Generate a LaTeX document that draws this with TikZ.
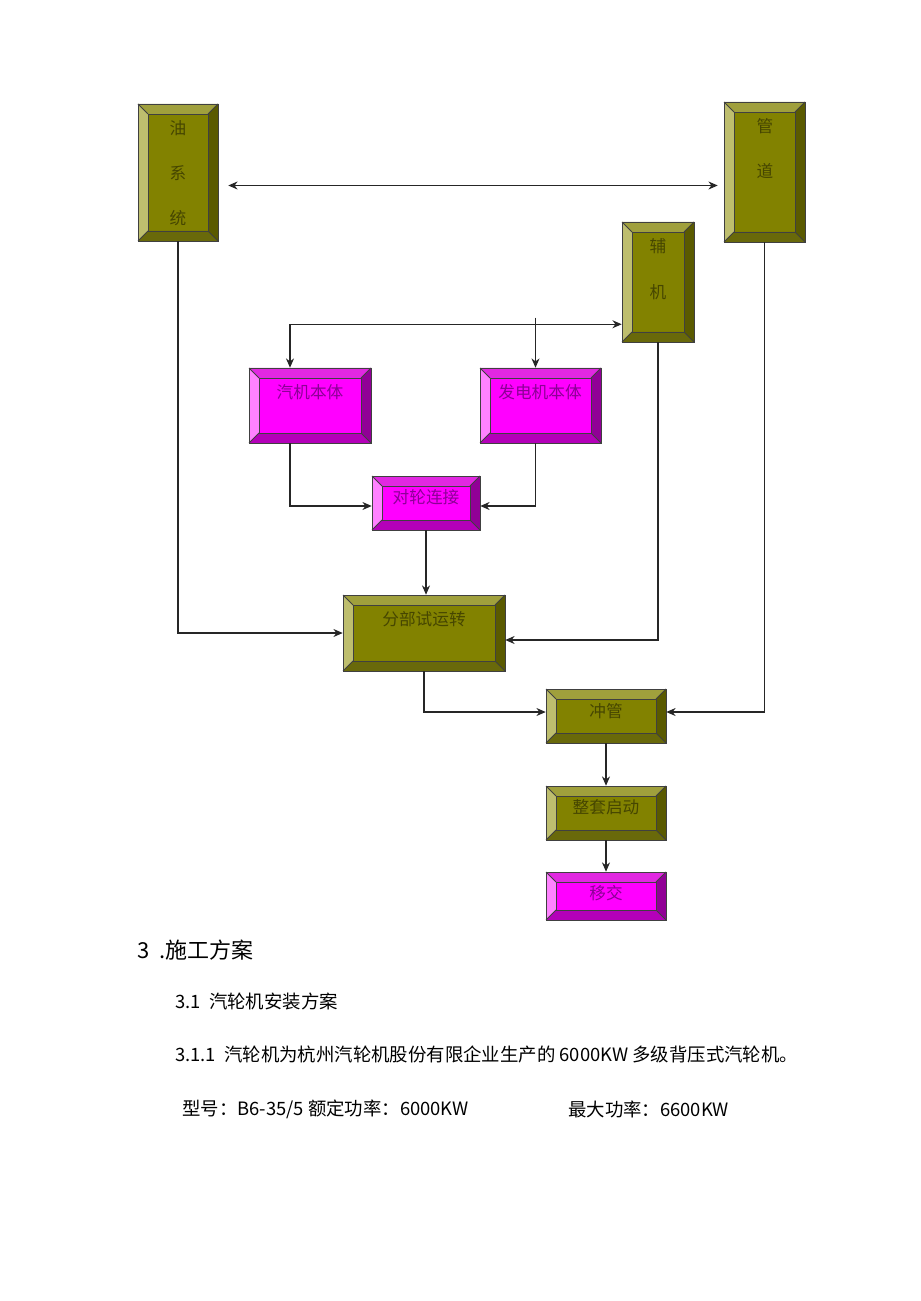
\documentclass[tikz,border=0pt]{standalone}
\usepackage{fontspec}
\setmainfont{Noto Sans CJK SC}
\usetikzlibrary{arrows.meta,calc,fit}

\definecolor{olface}{RGB}{130,130,0}
\definecolor{oltop}{RGB}{160,160,60}
\definecolor{olleft}{RGB}{190,190,110}
\definecolor{olright}{RGB}{90,90,0}
\definecolor{olbottom}{RGB}{105,105,10}
\definecolor{olink}{RGB}{70,70,0}
\definecolor{mgface}{RGB}{255,0,255}
\definecolor{mgtop}{RGB}{225,40,225}
\definecolor{mgleft}{RGB}{255,130,255}
\definecolor{mgright}{RGB}{145,0,150}
\definecolor{mgbottom}{RGB}{180,0,185}
\definecolor{mgink}{RGB}{140,0,150}

\tikzset{
  edge/.style={draw=black!75, line width=0.6pt},
  arr/.style={-{Stealth[length=7pt,width=6pt]}, draw=black!85, line width=0.8pt},
  arrboth/.style={{Stealth[length=7pt,width=6pt]}-{Stealth[length=7pt,width=6pt]}, draw=black!85, line width=0.8pt},
  oltext/.style={text=olink, font=\fontsize{12.5}{14}\selectfont, inner sep=0pt},
  mgtext/.style={text=mgink, font=\fontsize{12.5}{14}\selectfont, inner sep=0pt},
  body/.style={anchor=west, inner sep=0pt, font=\fontsize{13.8}{16}\selectfont},
}

% bevelled box: name, x1, y1, x2, y2, colour set
\newcommand{\bevbox}[6]{%
  \fill[#6face] (#2,#3) rectangle (#4,#5);
  \fill[#6top] (#2,#3) -- (#4,#3) -- (#4-10,#3+10) -- (#2+10,#3+10) -- cycle;
  \fill[#6left] (#2,#3) -- (#2+10,#3+10) -- (#2+10,#5-10) -- (#2,#5) -- cycle;
  \fill[#6right] (#4,#3) -- (#4,#5) -- (#4-10,#5-10) -- (#4-10,#3+10) -- cycle;
  \fill[#6bottom] (#2,#5) -- (#4,#5) -- (#4-10,#5-10) -- (#2+10,#5-10) -- cycle;
  \draw[edge] (#2,#3) rectangle (#4,#5);
  \draw[edge] (#2+10,#3+10) rectangle (#4-10,#5-10);
  \draw[edge] (#2,#3) -- (#2+10,#3+10) (#4,#3) -- (#4-10,#3+10)
              (#2,#5) -- (#2+10,#5-10) (#4,#5) -- (#4-10,#5-10);
  \node[fit={(#2,#3) (#4,#5)}, inner sep=0pt] (#1) {};
}

\begin{document}
\begin{tikzpicture}[x=0.75pt,y=0.75pt,yscale=-1,xscale=1]
\useasboundingbox[fill=white] (0,0) rectangle (920,1301);

% boxes
\bevbox{oil}{138}{104}{218}{241}{ol}
\bevbox{pipe}{724}{102}{805}{242}{ol}
\bevbox{aux}{622}{222}{694}{342}{ol}
\bevbox{steam}{249}{368}{371}{443}{mg}
\bevbox{gen}{480}{368}{601}{443}{mg}
\bevbox{coup}{372}{476}{480}{530}{mg}
\bevbox{trial}{343}{595}{505}{671}{ol}
\bevbox{flush}{546}{689}{666}{743}{ol}
\bevbox{start}{546}{786}{666}{840}{ol}
\bevbox{hand}{546}{872}{666}{920}{mg}

% box labels
\node[oltext] (oil1) at (178,128) {油};
\node[oltext] (oil2) at (178,173) {系};
\node[oltext] (oil3) at (178,218) {统};
\node[oltext] (pipe1) at (765,126) {管};
\node[oltext] (pipe2) at (765,171) {道};
\node[oltext] (aux1) at (658,246) {辅};
\node[oltext] (aux2) at (658,292) {机};
\node[mgtext] (steamtxt) at (310,392) {汽机本体};
\node[mgtext] (gentxt) at (540,392) {发电机本体};
\node[mgtext] (couptxt) at (426,497) {对轮连接};
\node[oltext] (trialtxt) at (424,619) {分部试运转};
\node[oltext] (flushtxt) at (606,711) {冲管};
\node[oltext] (starttxt) at (606,807) {整套启动};
\node[mgtext] (handtxt) at (606,893) {移交};

% connectors
\draw[arrboth] ($(oil.east)+(10,13)$) -- ($(pipe.west |- oil.east)+(-6,13)$);
\draw[arr] (oil.south) |- (trial.west);
\draw[arr] (aux.south) |- ($(trial.east)+(0,7)$);
\draw[arrboth] ($(steam.north)+(-20,0)$) |- ($(aux.south west)+(0,-18)$);
\draw[arr] ($(gen.north)+(-5,-50)$) -- ($(gen.north)+(-5,0)$);
\draw[arr] ($(steam.south)+(-20,0)$) |- ($(coup.west)+(0,3)$);
\draw[arr] ($(gen.south)+(-5,0)$) |- ($(coup.east)+(0,3)$);
\draw[arr] (coup.south) -- (coup.south |- trial.north);
\draw[arr] (trial.south) |- ($(flush.west)+(0,-4)$);
\draw[arr] (pipe.south) |- ($(flush.east)+(0,-4)$);
\draw[arr] (flush.south) -- (start.north);
\draw[arr] (start.south) -- (hand.north);

% text below the chart
\node[anchor=west, inner sep=0pt, font=\fontsize{16.5}{19}\selectfont] (sec3) at (137,950) {3\ \ .施工方案};
\node[body] (sec31) at (175,1001) {3.1\ \ 汽轮机安装方案};
\node[body] (sec311) at (175,1054) {3.1.1\ \ 汽轮机为杭州汽轮机股份有限企业生产的\ 6000KW\ 多级背压式汽轮机。};
\node[body] (model) at (182,1109) {型号：B6-35/5\ 额定功率：6000KW};
\node[body] (maxpow) at (568,1109) {最大功率：6600KW};
\end{tikzpicture}
\end{document}
